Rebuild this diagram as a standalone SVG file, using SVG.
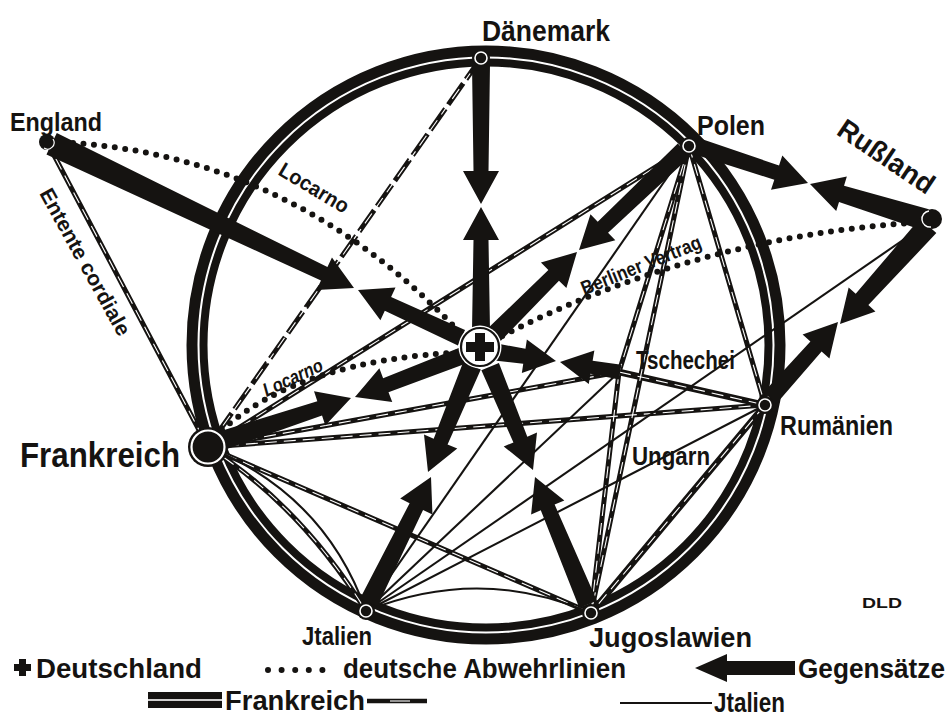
<svg xmlns="http://www.w3.org/2000/svg" width="948" height="718" viewBox="0 0 948 718">
<style>
.ro{fill:none;stroke:#151311;stroke-width:11}
.ri{fill:none;stroke:#151311;stroke-width:8}
.fb{fill:none;stroke:#151311;stroke-width:5;stroke-linecap:round}
.fw{fill:none;stroke:#fff;stroke-width:1.1;stroke-dasharray:12 7}
.it{fill:none;stroke:#151311;stroke-width:2.1}
.dot{fill:none;stroke:#151311;stroke-width:6;stroke-linecap:round;stroke-dasharray:0 10.5}
.arr{fill:#151311}
.nd{fill:#151311}
.nw{fill:none;stroke:#fff;stroke-width:1.6}
text{font-family:"Liberation Sans",Arial,sans-serif;font-weight:bold;fill:#151311}
</style>
<rect width="948" height="718" fill="#fff"/>

<g id="ring">
<circle class="ro" cx="486" cy="345" r="294"/>
<circle class="ri" cx="486" cy="345" r="282.5"/>
</g>

<g id="connectors">
<g id="french-lines">
<path class="fb" d="M47,142 L208,447"/>
<path class="fb" d="M481,58 L208,447" style="stroke-dasharray:26 5;stroke-linecap:butt"/>
<path class="fb" d="M208,447 L689,146"/>
<path class="fb" d="M208,447 L619,372"/>
<path class="fb" d="M208,447 L765,405"/>
<path class="fb" d="M208,447 L591,613"/>
<path class="fb" d="M208,447 Q300,505 366,611"/>
<path class="fb" d="M689,146 L619,372"/>
<path class="fb" d="M689,146 L591,613"/>
<path class="fb" d="M689,146 L765,405"/>
<path class="fb" d="M619,372 L765,405" style="stroke-width:6.5"/>
<path class="fb" d="M619,372 L591,613"/>
<path class="fb" d="M765,405 L591,613" style="stroke-width:6.5"/>
<path class="fw" d="M47,142 L208,447"/>
<path class="fw" d="M481,58 L208,447"/>
<path class="fw" d="M208,447 L689,146"/>
<path class="fw" d="M208,447 L619,372"/>
<path class="fw" d="M208,447 L765,405"/>
<path class="fw" d="M208,447 L591,613"/>
<path class="fw" d="M208,447 Q300,505 366,611"/>
<path class="fw" d="M689,146 L619,372"/>
<path class="fw" d="M689,146 L591,613"/>
<path class="fw" d="M689,146 L765,405"/>
<path class="fw" d="M619,372 L765,405"/>
<path class="fw" d="M619,372 L591,613"/>
<path class="fw" d="M765,405 L591,613"/>
</g>
<g id="italian-lines">
<path class="it" d="M366,611 L689,146"/>
<path class="it" d="M366,611 L619,372"/>
<path class="it" d="M366,611 L932,220"/>
<path class="it" d="M366,611 L765,405"/>
<path class="it" d="M366,611 Q480,565 591,613"/>
<path class="it" d="M208,447 Q325,495 366,611"/>
</g>
<g id="defence-lines">
<path class="dot" d="M52,142 Q290,150 462,335"/>
<path class="dot" d="M222,430 Q300,360 465,352"/>
<path class="dot" d="M925,222 Q700,235 500,337"/>
</g>
<g id="conflict-arrows">
<path class="arr" transform="translate(481,204) rotate(90)" d="M0,0 L-33,-18 L-33,-7.5 L-140,-9 L-140,9 L-33,7.5 L-33,18 Z"/>
<path class="arr" transform="translate(481,207) rotate(-90)" d="M0,0 L-33,-18 L-33,-7.5 L-123,-9 L-123,9 L-33,7.5 L-33,18 Z"/>
<path class="arr" transform="translate(354,288) rotate(25.5)" d="M0,0 L-33,-18 L-33,-7.5 L-335,-12 L-335,12 L-33,7.5 L-33,18 Z"/>
<path class="arr" transform="translate(358,290) rotate(204.8)" d="M0,0 L-33,-18 L-33,-7.5 L-114,-8.5 L-114,8.5 L-33,7.5 L-33,18 Z"/>
<path class="arr" transform="translate(579,250) rotate(136.4)" d="M0,0 L-33,-18 L-33,-7.5 L-145,-9 L-145,9 L-33,7.5 L-33,18 Z"/>
<path class="arr" transform="translate(577,252) rotate(-45)" d="M0,0 L-33,-18 L-33,-7.5 L-117,-9 L-117,9 L-33,7.5 L-33,18 Z"/>
<path class="arr" transform="translate(808,183) rotate(18.3)" d="M0,0 L-33,-18 L-33,-7.5 L-118,-8.5 L-118,8.5 L-33,7.5 L-33,18 Z"/>
<path class="arr" transform="translate(810,184) rotate(197.2)" d="M0,0 L-33,-18 L-33,-8.5 L-121,-11 L-121,11 L-33,8.5 L-33,18 Z"/>
<path class="arr" transform="translate(840,324) rotate(131.9)" d="M0,0 L-33,-18 L-33,-8.5 L-132,-11 L-132,11 L-33,8.5 L-33,18 Z"/>
<path class="arr" transform="translate(838,322) rotate(-48.2)" d="M0,0 L-33,-18 L-33,-7.5 L-102,-8.5 L-102,8.5 L-33,7.5 L-33,18 Z"/>
<path class="arr" transform="translate(556,361) rotate(8.5)" d="M0,0 L-32,-17 L-32,-7.5 L-61,-8.5 L-61,8.5 L-32,7.5 L-32,17 Z"/>
<path class="arr" transform="translate(560,362) rotate(189.5)" d="M0,0 L-32,-17 L-32,-6.5 L-61,-7.5 L-61,7.5 L-32,6.5 L-32,17 Z"/>
<path class="arr" transform="translate(355,397) rotate(159)" d="M0,0 L-33,-18 L-33,-7.5 L-115,-8.5 L-115,8.5 L-33,7.5 L-33,18 Z"/>
<path class="arr" transform="translate(351,398) rotate(-18.3)" d="M0,0 L-33,-18 L-33,-7.5 L-134,-9.5 L-134,9.5 L-33,7.5 L-33,18 Z"/>
<path class="arr" transform="translate(428,472) rotate(112.5)" d="M0,0 L-33,-18 L-33,-7.5 L-115,-9.5 L-115,9.5 L-33,7.5 L-33,18 Z"/>
<path class="arr" transform="translate(431,477) rotate(-63.6)" d="M0,0 L-33,-18 L-33,-7.5 L-140,-9.5 L-140,9.5 L-33,7.5 L-33,18 Z"/>
<path class="arr" transform="translate(533,470) rotate(67.5)" d="M0,0 L-33,-18 L-33,-7.5 L-112,-9.5 L-112,9.5 L-33,7.5 L-33,18 Z"/>
<path class="arr" transform="translate(535,477) rotate(-112.65)" d="M0,0 L-33,-18 L-33,-7.5 L-138,-9.5 L-138,9.5 L-33,7.5 L-33,18 Z"/>
</g>
</g>

<g id="n-deutschland">
<circle cx="480" cy="347" r="21.5" fill="#fff"/>
<circle cx="480" cy="347" r="19" fill="#fff" stroke="#151311" stroke-width="2.2"/>
<path class="nd" d="M475,333 h10 v9 h9 v10 h-9 v9 h-10 v-9 h-9 v-10 h9 Z"/>
</g>
<g id="n-daenemark"><circle class="nd" cx="481" cy="58" r="9"/><circle class="nw" cx="481" cy="58" r="6"/></g>
<g id="n-polen"><circle class="nd" cx="689" cy="146" r="9"/><circle class="nw" cx="689" cy="146" r="6"/></g>
<g id="n-rumaenien"><circle class="nd" cx="765" cy="405" r="9"/><circle class="nw" cx="765" cy="405" r="6"/></g>
<g id="n-jugoslawien"><circle class="nd" cx="591" cy="613" r="9"/><circle class="nw" cx="591" cy="613" r="6"/></g>
<g id="n-italien"><circle class="nd" cx="366" cy="611" r="9"/><circle class="nw" cx="366" cy="611" r="6"/></g>
<g id="n-frankreich"><circle class="nd" cx="208" cy="447" r="20"/><circle cx="208" cy="447" r="16.5" fill="none" stroke="#fff" stroke-width="2.2"/></g>
<g id="n-england"><circle class="nd" cx="47" cy="142" r="8"/><path d="M53,139 A6.5,6.5 0 0 1 44,148" fill="none" stroke="#fff" stroke-width="1.2"/></g>
<g id="n-russland"><circle class="nd" cx="932" cy="219" r="10"/><path d="M929,211 A8,8 0 0 0 931,227" fill="none" stroke="#fff" stroke-width="1.4"/></g>
<g id="n-tschechei"></g>

<g id="labels">
<text x="482" y="41" font-size="29" textLength="128" lengthAdjust="spacingAndGlyphs">Dänemark</text>
<text x="10" y="131" font-size="26" textLength="92" lengthAdjust="spacingAndGlyphs">England</text>
<text x="697" y="135" font-size="27" textLength="68" lengthAdjust="spacingAndGlyphs">Polen</text>
<text transform="translate(886,157) rotate(34)" x="0" y="9" font-size="28" text-anchor="middle" textLength="110" lengthAdjust="spacingAndGlyphs">Rußland</text>
<text x="780" y="435" font-size="27" textLength="113" lengthAdjust="spacingAndGlyphs">Rumänien</text>
<text x="20" y="467" font-size="35" textLength="160" lengthAdjust="spacingAndGlyphs">Frankreich</text>
<text x="636" y="369" font-size="25" textLength="99" lengthAdjust="spacingAndGlyphs">Tschechei</text>
<text x="632" y="465" font-size="25" textLength="78" lengthAdjust="spacingAndGlyphs">Ungarn</text>
<text x="302" y="645" font-size="25" textLength="70" lengthAdjust="spacingAndGlyphs">Jtalien</text>
<text x="589" y="647" font-size="27" textLength="163" lengthAdjust="spacingAndGlyphs">Jugoslawien</text>
<text transform="translate(314,188) rotate(31)" x="0" y="7" font-size="21" font-weight="normal" text-anchor="middle" textLength="78" lengthAdjust="spacingAndGlyphs">Locarno</text>
<text transform="translate(293,378) rotate(-25)" x="0" y="6" font-size="19" font-weight="normal" font-style="italic" text-anchor="middle" textLength="64" lengthAdjust="spacingAndGlyphs">Locarno</text>
<text transform="translate(641,265) rotate(-22)" x="0" y="7" font-size="20" font-weight="normal" text-anchor="middle" textLength="128" lengthAdjust="spacingAndGlyphs">Berliner Vertrag</text>
<text transform="translate(85,262) rotate(61)" x="0" y="7" font-size="21" font-weight="normal" text-anchor="middle" textLength="165" lengthAdjust="spacingAndGlyphs">Entente cordiale</text>
<text x="862" y="608" font-size="14" textLength="40" lengthAdjust="spacingAndGlyphs">DLD</text>
</g>

<g id="legend">
<path class="nd" d="M19,659 h7 v5 h5 v7 h-5 v5 h-7 v-5 h-5 v-7 h5 Z"/>
<text x="36" y="678" font-size="27" textLength="166" lengthAdjust="spacingAndGlyphs">Deutschland</text>
<path d="M268,670 L336,670" fill="none" stroke="#151311" stroke-width="6" stroke-linecap="round" stroke-dasharray="0 13.6"/>
<text x="343" y="678" font-size="27" textLength="283" lengthAdjust="spacingAndGlyphs">deutsche Abwehrlinien</text>
<path class="arr" d="M695,668 L727,654 L727,661 L795,661 L795,675 L727,675 L727,682 Z"/>
<text x="798" y="678" font-size="27" textLength="147" lengthAdjust="spacingAndGlyphs">Gegensätze</text>
<rect x="148" y="692" width="74" height="16" fill="#151311"/>
<rect x="148" y="699.2" width="74" height="1.6" fill="#fff"/>
<text x="225" y="710" font-size="27" textLength="140" lengthAdjust="spacingAndGlyphs">Frankreich</text>
<path d="M367,701 L427,701" stroke="#151311" stroke-width="4.5"/>
<path d="M390,701 L410,701" stroke="#fff" stroke-width="1.1"/>
<path d="M620,703 L712,703" stroke="#151311" stroke-width="2"/>
<text x="714" y="712" font-size="27" textLength="71" lengthAdjust="spacingAndGlyphs">Jtalien</text>
</g>
</svg>
